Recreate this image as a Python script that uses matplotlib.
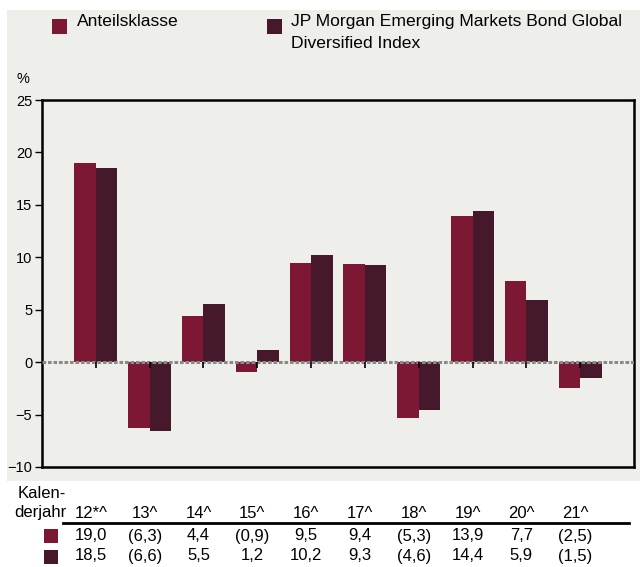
import matplotlib
matplotlib.use("Agg")
import matplotlib.pyplot as plt
from matplotlib.patches import Rectangle
import numpy as np

plt.rcParams['font.family'] = ['Liberation Sans', 'DejaVu Sans']

years = ["12*^", "13^", "14^", "15^", "16^", "17^", "18^", "19^", "20^", "21^"]
fund = [19.0, -6.3, 4.4, -0.9, 9.5, 9.4, -5.3, 13.9, 7.7, -2.5]
index = [18.5, -6.6, 5.5, 1.2, 10.2, 9.3, -4.6, 14.4, 5.9, -1.5]
fund_labels = ["19,0", "(6,3)", "4,4", "(0,9)", "9,5", "9,4", "(5,3)", "13,9", "7,7", "(2,5)"]
index_labels = ["18,5", "(6,6)", "5,5", "1,2", "10,2", "9,3", "(4,6)", "14,4", "5,9", "(1,5)"]
series_names = ["Anteilsklasse", "JP Morgan Emerging Markets Bond Global\nDiversified Index"]

c_fund = "#7C1734"
c_index = "#46182B"
bg = "#EEEEEA"

W, H = 640, 567
fig = plt.figure(figsize=(W / 100, H / 100), dpi=100)
fig.patch.set_facecolor("white")
fig.patches.append(Rectangle((7 / W, 1 - 481 / H), 1 - 7 / W, (481 - 10) / H,
                             transform=fig.transFigure, facecolor=bg, edgecolor="none", zorder=-5))

ax = fig.add_axes([42 / W, 1 - 467 / H, (634 - 42) / W, (467 - 100) / H])
ax.set_facecolor(bg)
x = np.arange(len(years))
w = 0.4
ax.bar(x - w / 2, fund, w, color=c_fund, zorder=2)
ax.bar(x + w / 2, index, w, color=c_index, zorder=2)
ax.axhline(0, color="#8a8a8a", lw=2.2, ls=(0, (1.2, 0.6)), zorder=3)
ax.vlines(x, -0.6, 0, color="black", lw=1.2, zorder=4)
ax.set_xlim(-1, len(years))
ax.set_ylim(-10, 25)
ax.set_yticks(np.arange(-10, 26, 5))
ax.set_xticks([])
ax.tick_params(axis="y", direction="out", length=5, width=1, labelsize=10.5, pad=2)
for s in ax.spines.values():
    s.set_linewidth(1.8)
    s.set_color("black")
fig.text(23 / W, 1 - 79 / H, "%", fontsize=10.5, ha="center", va="center")

# legend
for sx, tx, name, col in [(52, 77, series_names[0], c_fund), (267, 291, series_names[1], c_index)]:
    fig.patches.append(Rectangle((sx / W, 1 - 34 / H), 15 / W, 15 / H, transform=fig.transFigure,
                                 facecolor=col, edgecolor="none", zorder=2))
    fig.text(tx / W, 1 - 14 / H, name, fontsize=12.6, ha="left", va="top", linespacing=1.62)

# table
def xfig(v):
    return fig.transFigure.inverted().transform(ax.transData.transform((v, 0)))[0] - 5 / W

fig.text(42 / W, 1 - 493 / H, "Kalen-", fontsize=12, ha="center", va="center")
fig.text(40 / W, 1 - 513 / H, "derjahr", fontsize=12, ha="center", va="center")
for i, yl in enumerate(years):
    fig.text(xfig(i), 1 - 513 / H, yl, fontsize=12, ha="center", va="center")
    fig.text(xfig(i), 1 - 536 / H, fund_labels[i], fontsize=12, ha="center", va="center")
    fig.text(xfig(i), 1 - 556 / H, index_labels[i], fontsize=12, ha="center", va="center")
fig.add_artist(plt.Line2D([63 / W, 629 / W], [1 - 523 / H, 1 - 523 / H], color="black", lw=2,
                          transform=fig.transFigure))
for yy, col in [(536, c_fund), (557, c_index)]:
    fig.patches.append(Rectangle((44 / W, 1 - (yy + 7) / H), 14 / W, 14 / H, transform=fig.transFigure,
                                 facecolor=col, edgecolor="none"))

fig.savefig("out.png", dpi=100)
